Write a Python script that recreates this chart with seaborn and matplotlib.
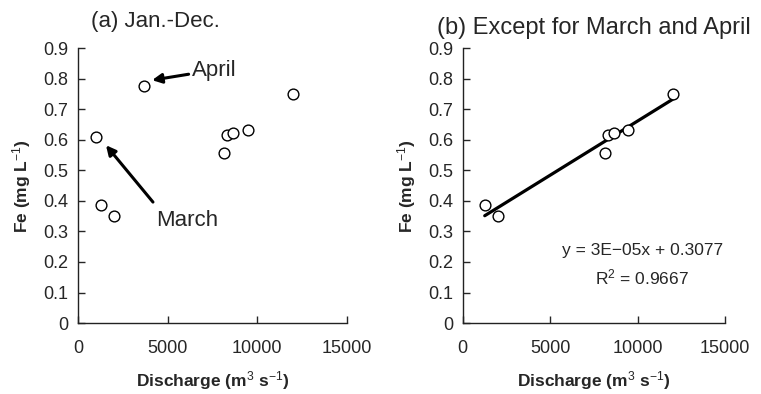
import matplotlib
matplotlib.use("Agg")
import matplotlib.pyplot as plt
import numpy as np
import pandas as pd
import seaborn as sns

# monthly discharge (m3/s) and Fe (mg/L)
discharge_all = [1000, 3680, 1260, 2030, 8120, 8310, 8660, 9460, 12000]
fe_all = [0.608, 0.776, 0.386, 0.350, 0.558, 0.615, 0.623, 0.633, 0.750]
months_all = ["March", "April", "m1", "m2", "m3", "m4", "m5", "m6", "m7"]

xticks = [0, 5000, 10000, 15000]
yticks = [0, 0.1, 0.2, 0.3, 0.4, 0.5, 0.6, 0.7, 0.8, 0.9]
ytick_labels = ["0", "0.1", "0.2", "0.3", "0.4", "0.5", "0.6", "0.7", "0.8", "0.9"]

eq_text = "y = 3E\u221205x + 0.3077"
r2_text = "R$^2$ = 0.9667"


def style_axes(ax):
    sns.despine(ax=ax)
    ax.set_xlim(0, 15000)
    ax.set_ylim(0, 0.9)
    ax.set_xticks(xticks)
    ax.set_xticklabels([str(t) for t in xticks])
    ax.set_yticks(yticks)
    ax.set_yticklabels(ytick_labels)
    ax.tick_params(axis="x", direction="in", length=5, width=1, pad=12, labelsize=13)
    ax.tick_params(axis="y", direction="in", length=5, width=1, pad=7, labelsize=13)
    for s in ("left", "bottom"):
        ax.spines[s].set_linewidth(1)
        ax.spines[s].set_color("#222222")
    ax.set_xlabel("Discharge (m$^3$ s$^{-1}$)", fontsize=12.5, fontweight="bold",
                  labelpad=9, family=["Liberation Sans Narrow", "Liberation Sans"])
    ax.set_ylabel("Fe (mg L$^{-1}$)", fontsize=12.5, fontweight="bold",
                  labelpad=7, family=["Liberation Sans Narrow", "Liberation Sans"])


def main():
    sns.set_style("ticks")
    plt.rcParams["font.family"] = ["Liberation Sans", "DejaVu Sans"]
    plt.rcParams["mathtext.fontset"] = "custom"
    plt.rcParams["mathtext.rm"] = "Liberation Sans"
    plt.rcParams["mathtext.it"] = "Liberation Sans"

    df = pd.DataFrame({"Q": discharge_all, "Fe": fe_all, "month": months_all})
    df_b = df[~df["month"].isin(["March", "April"])]

    fig = plt.figure(figsize=(7.61, 3.94), dpi=100)
    ax1 = fig.add_axes([0.1025, 0.180, 0.3535, 0.698])
    ax2 = fig.add_axes([0.608, 0.180, 0.345, 0.698])

    # (a) all months
    sns.scatterplot(data=df, x="Q", y="Fe", ax=ax1, s=60, facecolor="white",
                    edgecolor="black", linewidth=1)
    style_axes(ax1)
    ax1.text(0.048, 1.06, "(a) Jan.-Dec.", transform=ax1.transAxes,
             fontsize=16, ha="left", va="bottom")
    arrow = dict(arrowstyle="-|>", color="black", lw=2.2, mutation_scale=14,
                 shrinkA=0, shrinkB=0)
    ax1.annotate("April", xy=(4130, 0.795), xytext=(6350, 0.828),
                 fontsize=16, ha="left", va="center", arrowprops=arrow)
    ax1.annotate("", xy=(1560, 0.582), xytext=(4180, 0.396), arrowprops=arrow)
    ax1.text(4350, 0.337, "March", fontsize=16, ha="left", va="center")

    # (b) without March and April, with linear fit
    sns.regplot(data=df_b, x="Q", y="Fe", ax=ax2, ci=None, color="black",
                scatter_kws=dict(s=60, facecolor="white", edgecolor="black",
                                 linewidths=1, zorder=3, alpha=1),
                line_kws=dict(color="black", lw=2.3, zorder=2))
    style_axes(ax2)
    ax2.set_title("(b) Except for March and April", fontsize=17, pad=10)
    ax2.text(10250, 0.237, eq_text, fontsize=12.5, ha="center", va="center")
    ax2.text(10250, 0.148, r2_text, fontsize=12.5, ha="center", va="center")

    fig.savefig("out.png", dpi=100)
    plt.close(fig)


if __name__ == "__main__":
    main()
